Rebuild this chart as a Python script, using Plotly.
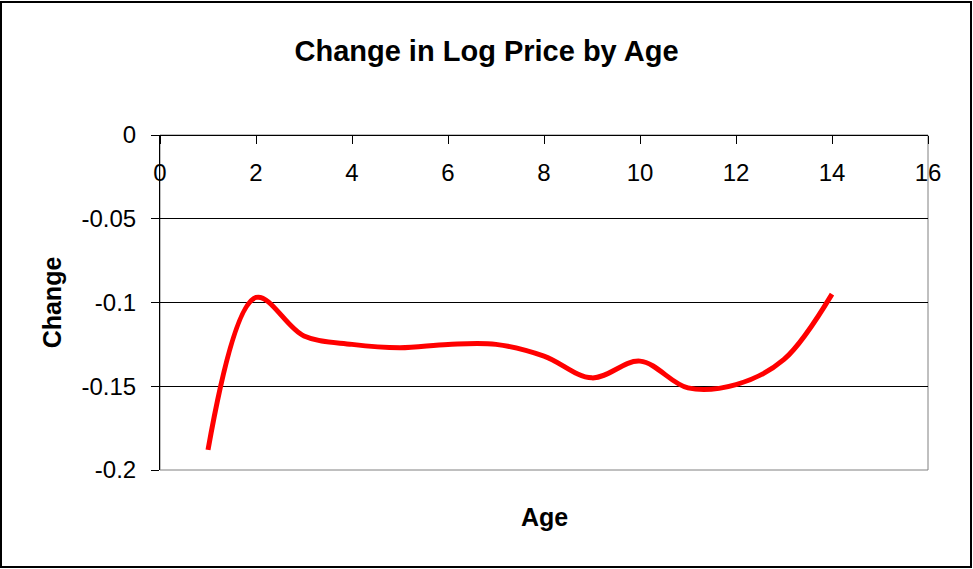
import plotly.graph_objects as go

# Data
ages = [1, 2, 3, 4, 5, 6, 7, 8, 9, 10, 11, 12, 13, 14]
change = [-0.188, -0.097, -0.120, -0.125, -0.127, -0.125, -0.125,
          -0.132, -0.145, -0.135, -0.151, -0.149, -0.134, -0.095]

x_ticks = list(range(0, 17, 2))
y_ticks = [0, -0.05, -0.1, -0.15, -0.2]
y_tick_text = ["0", "-0.05", "-0.1", "-0.15", "-0.2"]

FONT = "Liberation Sans, Arial, sans-serif"

W, H = 973, 569
ML, MR, MT, MB = 160, 45, 135, 99
PW = W - ML - MR
PH = H - MT - MB


def px_x(p):
    return (p - ML) / PW


def px_y(p):
    return (H - MB - p) / PH


fig = go.Figure()
fig.add_trace(go.Scatter(
    x=ages, y=change, mode="lines",
    line=dict(color="#FF0000", width=5, shape="spline", smoothing=1),
    showlegend=False, hoverinfo="x+y",
))

fig.update_layout(
    width=W, height=H,
    margin=dict(l=ML, r=MR, t=MT, b=MB, autoexpand=False),
    paper_bgcolor="white", plot_bgcolor="white",
    font=dict(family=FONT, color="black"),
    title=dict(text="<b>Change in Log Price by Age</b>", x=0.5, xanchor="center",
               xref="container", y=1 - 51 / H, yanchor="middle", yref="container",
               font=dict(size=29, family=FONT, color="black")),
    xaxis=dict(range=[0, 16], tickvals=x_ticks, ticktext=[str(v) for v in x_ticks],
               side="bottom", anchor="free", position=1,
               showline=True, linecolor="black", linewidth=1,
               ticks="outside", ticklen=8, tickcolor="black", tickwidth=1,
               ticklabelstandoff=8,
               showgrid=False, zeroline=False,
               tickfont=dict(size=24, family=FONT, color="black")),
    yaxis=dict(range=[-0.2, 0], tickvals=y_ticks, ticktext=y_tick_text,
               showline=True, linecolor="black", linewidth=1,
               ticks="outside", ticklen=8, tickcolor="black", tickwidth=1,
               ticklabelstandoff=10,
               showgrid=True, gridcolor="black", gridwidth=1,
               zeroline=False,
               tickfont=dict(size=24, family=FONT, color="black"),
               title=dict(text="<b>Change</b>", standoff=12,
                          font=dict(size=25, family=FONT, color="black"))),
    shapes=[
        # plot area border (grey, right & bottom visible)
        dict(type="rect", xref="paper", yref="paper", x0=0, x1=1, y0=0, y1=1,
             line=dict(color="#808080", width=1), layer="below"),
        # outer chart border
        dict(type="rect", xref="paper", yref="paper",
             x0=px_x(1), x1=px_x(971), y0=px_y(567), y1=px_y(2),
             line=dict(color="black", width=2)),
    ],
    annotations=[
        dict(text="<b>Age</b>", xref="paper", yref="paper", x=0.5, y=px_y(517),
             xanchor="center", yanchor="middle", showarrow=False,
             font=dict(size=25, family=FONT, color="black")),
    ],
)

fig.write_html("out.html", config={"displayModeBar": False})

# remove the browser's default page margin so the chart sits at (0, 0)
with open("out.html", "r", encoding="utf-8") as f:
    html = f.read()
html = html.replace("<body>", '<body style="margin:0;padding:0;">', 1)
with open("out.html", "w", encoding="utf-8") as f:
    f.write(html)
